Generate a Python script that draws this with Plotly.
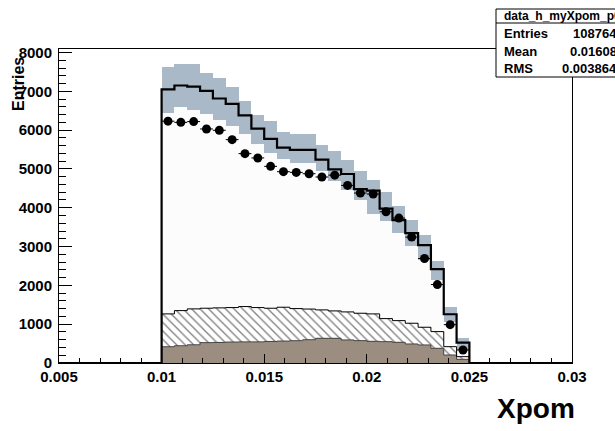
import plotly.graph_objects as go

# ---------------- data ----------------
bin_lo = 0.01
bin_width = 0.000625
n_bins = 24

mc_total = [7050, 7150, 7120, 7010, 6815, 6675, 6380, 6040, 5772, 5550, 5490, 5490,
            5239, 4990, 4870, 4480, 4440, 3975, 3680, 3346, 3035, 2417, 1256, 524]
band_high = [7630, 7716, 7716, 7465, 7340, 7100, 6744, 6400, 6240, 5960, 5910, 5910,
             5608, 5453, 5220, 4937, 4705, 4405, 4034, 3673, 3303, 2632, 1453, 637]
band_low = [6430, 6590, 6520, 6420, 6250, 6100, 5900, 5650, 5400, 5250, 5150, 5150,
            4950, 4700, 4465, 4206, 3850, 3650, 3346, 3020, 2658, 2142, 1066, 335]
hatched_top = [1265, 1350, 1394, 1411, 1420, 1428, 1454, 1428, 1411, 1437, 1402, 1390,
               1368, 1342, 1316, 1282, 1265, 1144, 1092, 1024, 921, 809, 421, 163]
brown_top = [420, 445, 470, 525, 530, 540, 545, 545, 555, 565, 575, 600,
             636, 636, 594, 576, 559, 550, 533, 490, 465, 379, 206, 95]
data_vals = [6230, 6200, 6220, 6030, 5995, 5755, 5394, 5283, 5066, 4929, 4911, 4877,
             4792, 4840, 4576, 4379, 4353, 3897, 3734, 3244, 2692, 2021, 988, 335]
data_errs = [79, 79, 79, 78, 77, 76, 73, 73, 71, 70, 70, 70,
             69, 70, 68, 66, 66, 62, 61, 57, 52, 45, 31, 18]

stats_title = "data_h_myXpom_p0"
stats_labels = ["Entries", "Mean", "RMS"]
stats_values = ["108764", "0.01608", "0.003864"]

x_range = [0.005, 0.03]
y_range = [0, 8090]

# ---------------- derived geometry ----------------
edges = [bin_lo + bin_width * k for k in range(n_bins + 1)]
centers = [bin_lo + bin_width * (k + 0.5) for k in range(n_bins)]

W, H = 615, 431
L, R, T, B = 59, 572, 49, 363  # plot-area pixel box


def px(xp):
    return (xp - L) / (R - L)


def py(yp):
    return (B - yp) / (B - T)


fig = go.Figure()

# white fill of total MC
fig.add_trace(go.Bar(x=centers, y=mc_total, width=bin_width,
                     marker=dict(color="#fcfcfc", line=dict(width=0)),
                     showlegend=False, hoverinfo="skip"))
# error band
fig.add_trace(go.Bar(x=centers, y=[h - l for h, l in zip(band_high, band_low)],
                     base=band_low, width=bin_width,
                     marker=dict(color="#aab9c8", line=dict(width=0)),
                     showlegend=False, hoverinfo="skip"))
# hatched component
fig.add_trace(go.Bar(x=centers, y=hatched_top, width=bin_width,
                     marker=dict(color="white", line=dict(width=0),
                                 pattern=dict(shape="\\", fgcolor="black",
                                              bgcolor="white", size=6, solidity=0.22)),
                     showlegend=False, hoverinfo="skip"))
# brown component
fig.add_trace(go.Bar(x=centers, y=brown_top, width=bin_width,
                     marker=dict(color="#9b8d80", line=dict(width=0)),
                     showlegend=False, hoverinfo="skip"))


def step(vals, x0=None, x1=None):
    xs = [edges[0]] + edges
    ys = [0] + list(vals) + [0]
    if x0 is not None:
        xs = [x0] + xs
        ys = [0] + ys
    if x1 is not None:
        xs = xs + [x1]
        ys = ys + [0]
    return xs, ys


xs, ys = step(brown_top)
fig.add_trace(go.Scatter(x=xs, y=ys, mode="lines", line=dict(color="#444444", width=1, shape="hv"),
                         showlegend=False, hoverinfo="skip"))
xs, ys = step(hatched_top)
fig.add_trace(go.Scatter(x=xs, y=ys, mode="lines", line=dict(color="black", width=1, shape="hv"),
                         showlegend=False, hoverinfo="skip"))
xs, ys = step(mc_total, x_range[0], x_range[1])
fig.add_trace(go.Scatter(x=xs, y=ys, mode="lines", line=dict(color="black", width=2.2, shape="hv"),
                         showlegend=False, hoverinfo="skip"))

# data points
fig.add_trace(go.Scatter(x=centers, y=data_vals, mode="markers",
                         marker=dict(color="black", size=9, symbol="circle"),
                         error_x=dict(type="constant", value=bin_width / 2, color="black",
                                      thickness=1, width=0),
                         error_y=dict(type="data", array=data_errs, color="black",
                                      thickness=1, width=0),
                         showlegend=False, hoverinfo="skip"))

tick_font = dict(family="Liberation Sans", size=15, color="black", weight="bold")

fig.update_layout(
    width=W, height=H,
    margin=dict(l=L, r=W - R, t=T, b=H - B, pad=0),
    paper_bgcolor="white", plot_bgcolor="white",
    barmode="overlay", bargap=0,
    showlegend=False,
    xaxis=dict(range=x_range, dtick=0.005, tick0=0.005, showgrid=False, zeroline=False,
               showline=True, linecolor="black", linewidth=1, mirror=True,
               ticks="inside", ticklen=9, tickcolor="black", tickwidth=1,
               tickfont=tick_font, tickformat="~g",
               minor=dict(dtick=0.001, ticks="inside", ticklen=5, tickcolor="black", showgrid=False)),
    yaxis=dict(range=y_range, dtick=1000, showgrid=False, zeroline=False,
               showline=True, linecolor="black", linewidth=1, mirror=True,
               ticks="inside", ticklen=13, tickcolor="black", tickwidth=1,
               tickfont=tick_font, tickformat="d", ticklabelstandoff=3,
               minor=dict(dtick=200, ticks="inside", ticklen=7, tickcolor="black", showgrid=False)),
)

# axis titles
fig.add_annotation(text="Entries", xref="paper", yref="paper", x=px(18), y=py(84),
                   textangle=-90, showarrow=False, xanchor="center", yanchor="middle",
                   font=dict(family="Liberation Sans", size=16, color="black", weight="bold"))
fig.add_annotation(text="Xpom", xref="paper", yref="paper", x=px(577), y=py(408),
                   showarrow=False, xanchor="right", yanchor="middle",
                   font=dict(family="Liberation Sans", size=28, color="black", weight="bold"))

# stats box
box_l, box_t, box_r, box_b = 496, 9, 625, 77
fig.add_shape(type="rect", xref="paper", yref="paper", x0=px(box_l), x1=px(box_r),
              y0=py(box_b), y1=py(box_t), line=dict(color="black", width=1),
              fillcolor="white", layer="above")
fig.add_shape(type="line", xref="paper", yref="paper", x0=px(box_l), x1=px(box_r),
              y0=py(23), y1=py(23), line=dict(color="black", width=1), layer="above")
fig.add_annotation(text=stats_title, xref="paper", yref="paper", x=px(502), y=py(16),
                   showarrow=False, xanchor="left", yanchor="middle",
                   font=dict(family="Liberation Sans", size=12, color="black", weight="bold"))
row_y = [34, 51, 68]
for lab, val, ry in zip(stats_labels, stats_values, row_y):
    fig.add_annotation(text=lab, xref="paper", yref="paper", x=px(502), y=py(ry),
                       showarrow=False, xanchor="left", yanchor="middle",
                       font=dict(family="Liberation Sans", size=13, color="black", weight="bold"))
    fig.add_annotation(text=val, xref="paper", yref="paper", x=px(619), y=py(ry),
                       showarrow=False, xanchor="right", yanchor="middle",
                       font=dict(family="Liberation Sans", size=13, color="black", weight="bold"))

fig.write_html("out.html")
